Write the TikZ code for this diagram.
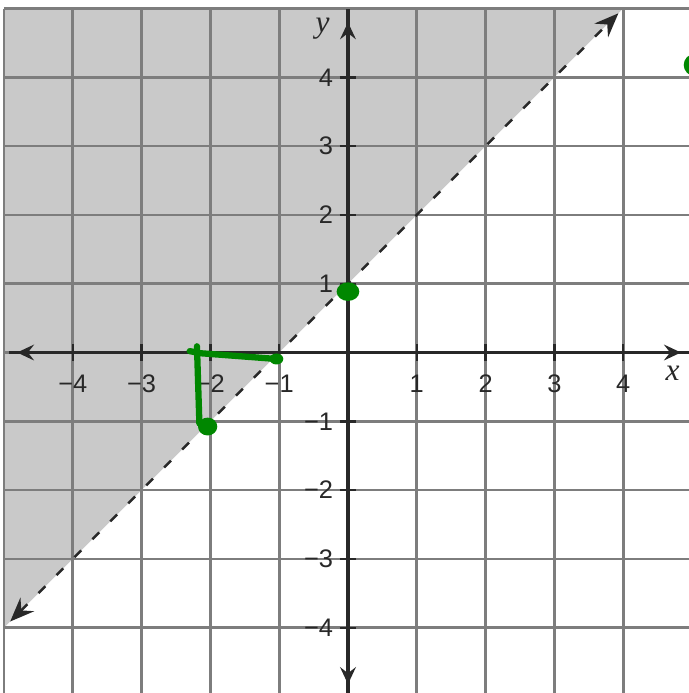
\documentclass[tikz,border=0pt]{standalone}
\usepackage{fontspec}
\setmainfont{Liberation Sans}
\newfontfamily\serifit{Liberation Serif}
\usetikzlibrary{arrows.meta}
\definecolor{gridc}{RGB}{125,125,125}
\definecolor{shadec}{RGB}{201,201,201}
\definecolor{axisc}{RGB}{40,40,40}
\definecolor{penc}{RGB}{0,135,0}
\begin{document}
\begin{tikzpicture}[
  gridline/.style={draw=gridc, line width=1.1pt},
  axisline/.style={draw=axisc, line width=1.3pt},
  axishead/.style={draw=axisc, line width=1.3pt, -{Stealth[length=7pt,width=6.5pt,inset=2.5pt]}},
  tickmark/.style={draw=axisc, line width=1pt},
  boundary/.style={draw=axisc, line width=1pt, dash pattern=on 4pt off 6.5pt,
    {Stealth[length=10pt,width=8pt,inset=3.5pt]}-{Stealth[length=10pt,width=8pt,inset=3.5pt]}},
  numlab/.style={font=\fontsize{10.5}{12}\selectfont, text=axisc, inner sep=0pt},
  varlab/.style={font=\fontsize{13}{15}\selectfont\serifit\itshape, text=axisc, inner sep=0pt},
  pen/.style={draw=penc, line width=2.6pt, line cap=round, line join=round},
]
\useasboundingbox (-5.058,-4.949) rectangle (4.956,5.124);
\clip (-5.058,-4.949) rectangle (4.956,5.124);
\fill[white] (-5.058,-4.949) rectangle (4.956,5.124);
% shaded half-plane
\coordinate (lineBL) at (-5,-4);
\coordinate (lineTR) at (4,5);
\fill[shadec] (lineBL) -- (lineTR) -- (-5,5) -- cycle;
% grid
\draw[gridline] (-5,-5) grid (5,5);
% axes
\coordinate (xW) at (-4.92,0);
\coordinate (xE) at (5.1,0);
\coordinate (yS) at (0,-5.1);
\coordinate (yN) at (0,5);
\draw[axisline] (xW) -- (xE);
\draw[axisline] (yS) -- (yN);
\draw[axishead] (-4.4,0) -- (-4.81,0);
\draw[axishead] (4.4,0) -- (4.84,0);
\draw[axishead] (0,4.4) -- (0,4.8);
\draw[axishead] (0,-4.4) -- (0,-4.82);
% ticks and labels
\foreach \i/\t in {-4/−4,-3/−3,-2/−2,-1/−1,1/1,2/2,3/3,4/4}{
  \draw[tickmark] (\i,-0.12) -- (\i,0.12);
  \draw[tickmark] (-0.12,\i) -- (0.12,\i);
  \node[numlab] (xlab\i) at (\i,-0.45) {\t};
  \node[numlab, anchor=east] (ylab\i) at (-0.21,\i) {\t};
}
\node[varlab] (xname) at (4.72,-0.3) {x};
\node[varlab] (yname) at (-0.37,4.7) {y};
% boundary line y = x + 1
\coordinate (bdA) at (-4.91,-3.91);
\coordinate (bdB) at (3.93,4.93);
\draw[boundary] (bdA) -- (bdB);
% green annotations
\coordinate (hL) at (-2.30,0.02);
\coordinate (hM) at (-2.15,-0.01);
\coordinate (hR) at (-1.04,-0.094);
\coordinate (vT) at (-2.195,0.09);
\coordinate (vB) at (-2.16,-1.03);
\draw[pen] (hL) -- (hM) -- (hR);
\draw[pen] (vT) -- (vB);
\fill[penc] (-2.04,-1.076) ellipse (0.14 and 0.13);
\fill[penc] (hR) ellipse (0.1 and 0.08);
\fill[penc] (0,0.885) ellipse (0.165 and 0.135);
\fill[penc] (5.04,4.18) circle (0.16);
\end{tikzpicture}
\end{document}
